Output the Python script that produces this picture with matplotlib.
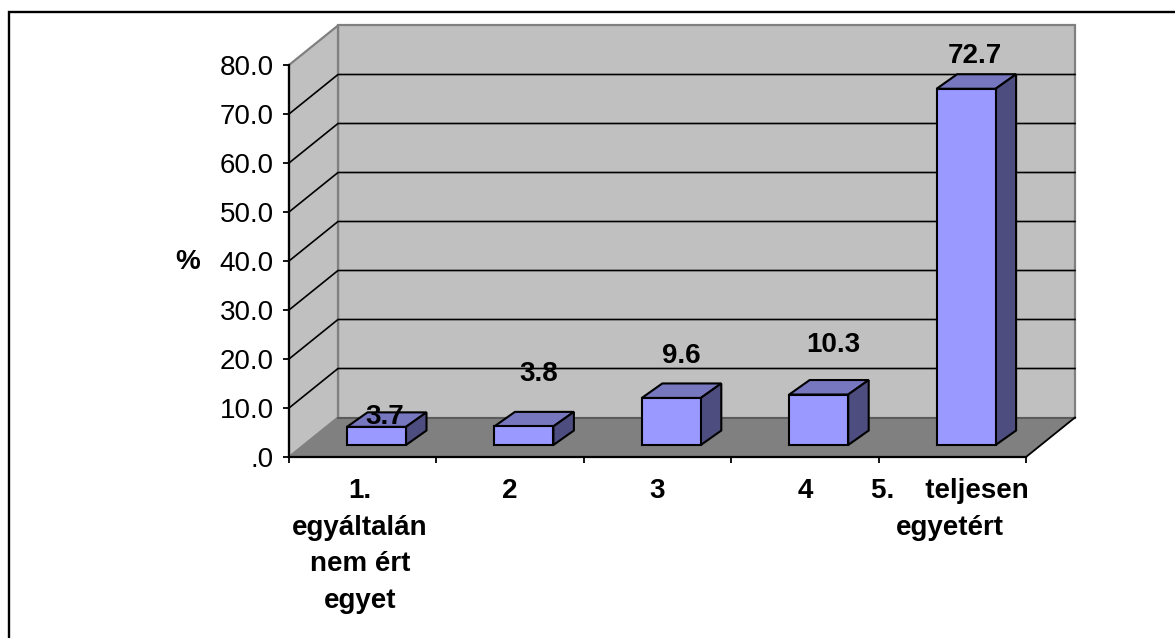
from matplotlib import pyplot as plt
from matplotlib.lines import Line2D
from matplotlib.patches import Polygon

categories = ["1.\negyáltalán\nnem ért\negyet", "2", "3", "4", "5.    teljesen\negyetért"]
values = [3.7, 3.8, 9.6, 10.3, 72.7]
value_labels = ["3.7", "3.8", "9.6", "10.3", "72.7"]
y_ticks = [0, 10, 20, 30, 40, 50, 60, 70, 80]
y_tick_labels = [".0", "10.0", "20.0", "30.0", "40.0", "50.0", "60.0", "70.0", "80.0"]

# pixel offsets of the labels
label_dx = [8, 15, 10, 15, 9]
label_dy = [10, 52, 42, 50, 33]
cat_label_dx = [-3, 0, 0, 0, -2]

W, H = 1175, 638
plt.rcParams['font.family'] = ['Liberation Sans', 'DejaVu Sans']
fig = plt.figure(figsize=(W / 100, H / 100), dpi=100)
ax = fig.add_axes([289 / W, 1 - 457 / H, 737 / W, 392 / H])
ax.set_xlim(0, 5)
ax.set_ylim(0, 80)
ax.patch.set_visible(False)
for s in ['top', 'right']:
    ax.spines[s].set_visible(False)
for s in ['left', 'bottom']:
    ax.spines[s].set_linewidth(1.6)
    ax.spines[s].set_zorder(6)

# frame: only the top and left edges are inside the picture
fig.add_artist(Line2D([8.5 / W, 8.5 / W, 1], [0, 1 - 12 / H, 1 - 12 / H], transform=fig.transFigure,
                      color='black', linewidth=1.7, solid_joinstyle='miter'))

# depth of the box and of the bars, in data units
dx = 49 / 147.4
dy = 39.5 / 4.9
bar_left = 58 / 147.4
bar_w = 59 / 147.4
bar_base = 12 / 4.9
bar_dx = 20.5 / 147.4
bar_dy = 14.5 / 4.9

# walls and floor
ax.add_patch(Polygon([(dx, dy), (5 + dx, dy), (5 + dx, 80 + dy), (dx, 80 + dy)], fc='#C0C0C0', ec='#808080', lw=1.6, clip_on=False, zorder=1))
ax.add_patch(Polygon([(0, 0), (dx, dy), (dx, 80 + dy), (0, 80)], fc='#C0C0C0', ec='#808080', lw=1.6, clip_on=False, zorder=1))
ax.add_patch(Polygon([(0, 0), (5, 0), (5 + dx, dy), (dx, dy)], fc='#808080', ec='none', clip_on=False, zorder=1))
ax.plot([dx, 5 + dx], [dy, dy], color='#5a5a5a', lw=1.4, clip_on=False, zorder=2)
ax.plot([5, 5 + dx], [0, dy], color='black', lw=1.3, clip_on=False, zorder=2)

# gridlines
for t in y_ticks[1:-1]:
    ax.plot([0, dx, 5 + dx], [t, t + dy, t + dy], color='black', lw=1.2, clip_on=False, zorder=2)

# bars
for i, v in enumerate(values):
    x0 = i + bar_left
    x1 = x0 + bar_w
    y0 = bar_base
    y1 = bar_base + v
    ax.add_patch(Polygon([(x0, y1), (x1, y1), (x1 + bar_dx, y1 + bar_dy), (x0 + bar_dx, y1 + bar_dy)], fc='#7777BF', ec='black', lw=1.5, zorder=3))
    ax.add_patch(Polygon([(x1, y0), (x1 + bar_dx, y0 + bar_dy), (x1 + bar_dx, y1 + bar_dy), (x1, y1)], fc='#4D4D80', ec='black', lw=1.5, zorder=3))
    ax.add_patch(Polygon([(x0, y0), (x1, y0), (x1, y1), (x0, y1)], fc='#9999FF', ec='black', lw=1.5, zorder=4))
    ax.annotate(value_labels[i], xy=(x0 + bar_w / 2, y1), xytext=(label_dx[i] * 0.72, label_dy[i] * 0.72),
                textcoords='offset points', ha='center', va='center', fontsize=20, fontweight='bold', zorder=7)

# axes
ax.set_yticks(y_ticks)
ax.set_yticklabels(y_tick_labels, fontsize=20)
ax.set_xticks(range(6))
ax.set_xticklabels([])
ax.tick_params(axis='both', length=4.5, width=1.3, color='black', pad=6.5)

for i, c in enumerate(categories):
    ax.annotate(c, xy=(i + 0.5, 0), xytext=(cat_label_dx[i] * 0.72, -15), textcoords='offset points',
                ha='center', va='top', fontsize=20, fontweight='bold', linespacing=1.54, multialignment='center')

fig.text(188 / W, 1 - 262 / H, "%", fontsize=20, fontweight='bold', ha='center', va='center')

plt.savefig("out.png", dpi=100)
